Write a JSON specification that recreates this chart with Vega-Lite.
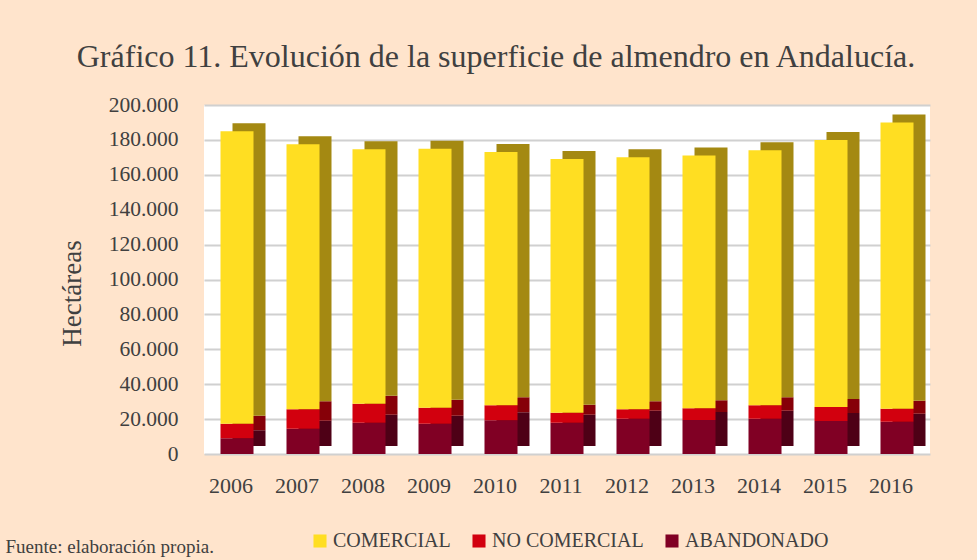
{
  "$schema": "https://vega.github.io/schema/vega-lite/v6.json",
  "autosize": "none",
  "width": 726,
  "height": 349,
  "padding": {"left": 204, "top": 105, "right": 47, "bottom": 106},
  "background": "#FFE4CC",
  "title": {
    "text": "Gráfico 11. Evolución de la superficie de almendro en Andalucía.",
    "font": "Liberation Serif",
    "fontSize": 32,
    "fontWeight": "normal",
    "color": "#404040",
    "anchor": "middle",
    "frame": "group",
    "baseline": "alphabetic",
    "offset": 36,
    "dx": -71,
    "dy": 41
  },
  "data": {
    "values": [
      {"year": "2006", "tipo": "ABANDONADO", "ha": 9000},
      {"year": "2006", "tipo": "NO COMERCIAL", "ha": 8400},
      {"year": "2006", "tipo": "COMERCIAL", "ha": 167600},
      {"year": "2007", "tipo": "ABANDONADO", "ha": 14500},
      {"year": "2007", "tipo": "NO COMERCIAL", "ha": 11100},
      {"year": "2007", "tipo": "COMERCIAL", "ha": 151900},
      {"year": "2008", "tipo": "ABANDONADO", "ha": 17900},
      {"year": "2008", "tipo": "NO COMERCIAL", "ha": 10900},
      {"year": "2008", "tipo": "COMERCIAL", "ha": 145800},
      {"year": "2009", "tipo": "ABANDONADO", "ha": 17400},
      {"year": "2009", "tipo": "NO COMERCIAL", "ha": 9100},
      {"year": "2009", "tipo": "COMERCIAL", "ha": 148500},
      {"year": "2010", "tipo": "ABANDONADO", "ha": 19300},
      {"year": "2010", "tipo": "NO COMERCIAL", "ha": 8700},
      {"year": "2010", "tipo": "COMERCIAL", "ha": 145000},
      {"year": "2011", "tipo": "ABANDONADO", "ha": 17900},
      {"year": "2011", "tipo": "NO COMERCIAL", "ha": 5800},
      {"year": "2011", "tipo": "COMERCIAL", "ha": 145300},
      {"year": "2012", "tipo": "ABANDONADO", "ha": 20200},
      {"year": "2012", "tipo": "NO COMERCIAL", "ha": 5400},
      {"year": "2012", "tipo": "COMERCIAL", "ha": 144400},
      {"year": "2013", "tipo": "ABANDONADO", "ha": 19500},
      {"year": "2013", "tipo": "NO COMERCIAL", "ha": 6700},
      {"year": "2013", "tipo": "COMERCIAL", "ha": 144800},
      {"year": "2014", "tipo": "ABANDONADO", "ha": 20200},
      {"year": "2014", "tipo": "NO COMERCIAL", "ha": 7800},
      {"year": "2014", "tipo": "COMERCIAL", "ha": 146000},
      {"year": "2015", "tipo": "ABANDONADO", "ha": 18900},
      {"year": "2015", "tipo": "NO COMERCIAL", "ha": 8000},
      {"year": "2015", "tipo": "COMERCIAL", "ha": 153100},
      {"year": "2016", "tipo": "ABANDONADO", "ha": 18500},
      {"year": "2016", "tipo": "NO COMERCIAL", "ha": 7500},
      {"year": "2016", "tipo": "COMERCIAL", "ha": 164000}
    ]
  },
  "encoding": {
    "x": {
      "field": "year",
      "type": "nominal",
      "scale": {"paddingInner": 0.5, "paddingOuter": 0.25},
      "axis": {
        "labelAngle": 0,
        "labelFont": "Liberation Serif",
        "labelFontSize": 22,
        "labelColor": "#404040",
        "labelPadding": 21,
        "labelOffset": -6,
        "ticks": false,
        "domain": false,
        "title": "Fuente: elaboración propia.",
        "titleFont": "Liberation Serif",
        "titleFontSize": 19,
        "titleFontWeight": "normal",
        "titleColor": "#404040",
        "titleAlign": "left",
        "titleBaseline": "alphabetic",
        "titleX": -199,
        "titleY": 98
      }
    },
    "y": {
      "field": "ha",
      "type": "quantitative",
      "stack": "zero",
      "scale": {"domain": [0, 200000], "nice": false},
      "axis": {
        "values": [0, 20000, 40000, 60000, 80000, 100000, 120000, 140000, 160000, 180000, 200000],
        "labelExpr": "replace(format(datum.value, ','), ',', '.')",
        "labelFont": "Liberation Serif",
        "labelFontSize": 21.5,
        "labelColor": "#404040",
        "labelPadding": 26,
        "ticks": false,
        "domain": false,
        "grid": true,
        "gridColor": "#D0D0D0",
        "gridWidth": 2,
        "title": "Hectáreas",
        "titleFont": "Liberation Serif",
        "titleFontSize": 27,
        "titleFontWeight": "normal",
        "titleColor": "#404040",
        "titleAngle": -90,
        "titleAlign": "center",
        "titleBaseline": "middle",
        "titleX": -132,
        "titleY": 188
      }
    },
    "order": {"field": "ord", "type": "quantitative"}
  },
  "transform": [
    {"calculate": "datum.tipo === 'ABANDONADO' ? 0 : (datum.tipo === 'NO COMERCIAL' ? 1 : 2)", "as": "ord"}
  ],
  "layer": [
    {
      "mark": {"type": "bar", "xOffset": 12, "x2Offset": 12, "yOffset": -8, "y2Offset": -8},
      "encoding": {
        "color": {
          "field": "tipo",
          "type": "nominal",
          "scale": {
            "domain": ["COMERCIAL", "NO COMERCIAL", "ABANDONADO"],
            "range": ["#A48912", "#860008", "#4E0016"]
          },
          "legend": null
        }
      }
    },
    {
      "mark": {"type": "bar"},
      "encoding": {
        "color": {
          "field": "tipo",
          "type": "nominal",
          "scale": {
            "domain": ["COMERCIAL", "NO COMERCIAL", "ABANDONADO"],
            "range": ["#FFDE22", "#D2000E", "#800024"]
          },
          "legend": {
            "title": null,
            "orient": "none",
            "direction": "horizontal",
            "legendX": 106,
            "legendY": 426,
            "symbolType": "square",
            "symbolSize": 170,
            "symbolStrokeWidth": 0,
            "labelFont": "Liberation Serif",
            "labelFontSize": 20,
            "labelColor": "#404040",
            "labelOffset": 3,
            "columnPadding": 18
          }
        }
      }
    }
  ],
  "resolve": {"scale": {"color": "independent"}},
  "config": {
    "view": {"fill": "#FFFFFF", "stroke": null}
  }
}
